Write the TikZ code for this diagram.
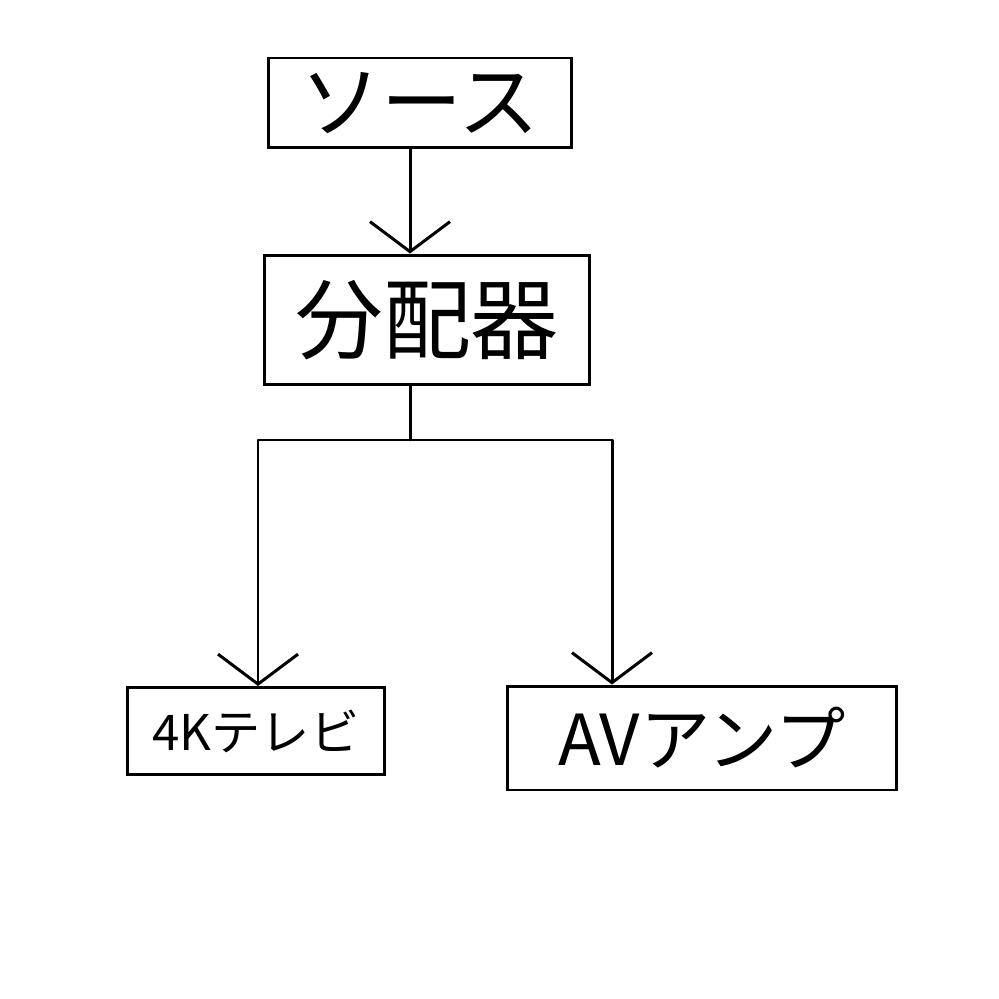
\documentclass[tikz,border=0pt]{standalone}
\usepackage{fontspec}
\newfontfamily\jp{Noto Sans CJK JP}
\usetikzlibrary{arrows.meta}
\begin{document}
\begin{tikzpicture}[x=0.02cm,y=-0.02cm,
  box/.style={draw,line width=1.7pt,inner sep=0pt,font=\jp},
  conn/.style={line width=1.7pt,line join=round,line cap=round},
  arr/.style={conn,-{Straight Barb[length=0.6cm,width=1.6cm,line width=1.7pt]}}]
\useasboundingbox (0,0) rectangle (999,999);
\node[box,minimum width=6.08cm,minimum height=1.8cm,font=\jp\fontsize{46}{50}\selectfont] (src) at (420,103) {ソース};
\node[box,minimum width=6.5cm,minimum height=2.6cm,font=\jp\fontsize{50}{54}\selectfont] (div) at (427,320) {分配器};
\node[box,minimum width=5.16cm,minimum height=1.74cm,font=\jp\fontsize{28}{32}\selectfont] (tv) at (256,731) {4Kテレビ};
\node[box,minimum width=7.8cm,minimum height=2.08cm,font=\jp\fontsize{40}{44}\selectfont] (amp) at (702,738) {AVアンプ};
\coordinate (j) at (410,440);
\draw[arr] (src.south -| 410,0) -- (div.north -| 410,0);
\draw[conn] (div.south -| j) -- (j);
\draw[arr] (j) -- (258,440) -- (tv.north -| 258,0);
\draw[arr] (j) -- (612,440) -- (amp.north -| 612,0);
\end{tikzpicture}
\end{document}
